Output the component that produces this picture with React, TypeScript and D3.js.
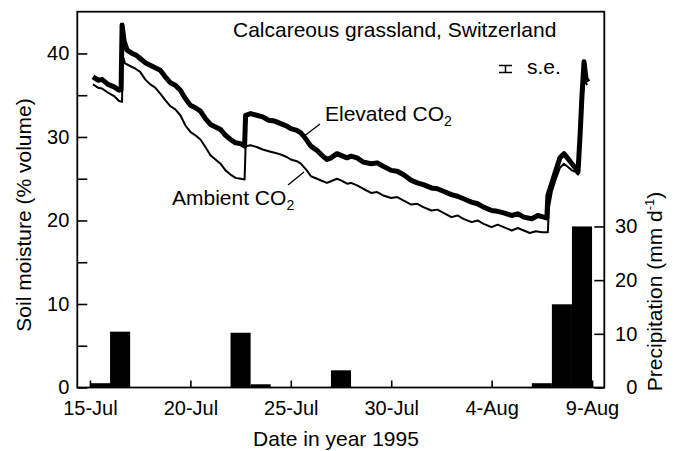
import { useEffect, useRef } from 'react';
import * as d3 from 'd3';

const W = 674;
const H = 451;
const BOX = { left: 77.3, right: 604.3, top: 11.7, bottom: 387.5 };
const FONT = '"Liberation Sans", Arial, Helvetica, sans-serif';

// [day of July 1995 (fractional), soil moisture % volume]
const elevatedCO2: [number, number][] = [
  [15.15, 37.2], [15.4, 36.8], [15.6, 36.9], [15.9, 36.3], [16.2, 36.0], [16.45, 35.6],
  [16.55, 35.7], [16.6, 43.4], [16.7, 41.5], [16.85, 40.4], [17.1, 40.0], [17.3, 39.8],
  [17.5, 39.4], [17.75, 38.9], [18.0, 38.6], [18.25, 38.3], [18.5, 38.0], [18.75, 37.2],
  [19.0, 36.5], [19.25, 36.2], [19.5, 35.6], [19.75, 34.6], [20.0, 33.8], [20.25, 33.5],
  [20.5, 33.1], [20.75, 32.2], [21.0, 31.5], [21.25, 31.2], [21.5, 30.9], [21.75, 30.2],
  [22.0, 29.7], [22.25, 29.3], [22.5, 29.2], [22.7, 28.9], [22.75, 32.6], [23.0, 32.8],
  [23.3, 32.6], [23.6, 32.4], [23.9, 32.0], [24.2, 31.9], [24.5, 31.6], [24.8, 31.3],
  [25.0, 31.0], [25.3, 30.8], [25.5, 30.5], [25.8, 29.6], [26.0, 28.9], [26.3, 28.4],
  [26.6, 27.7], [26.8, 27.3], [27.0, 27.5], [27.3, 28.0], [27.5, 27.8], [27.8, 27.5],
  [28.0, 27.7], [28.3, 27.5], [28.6, 27.0], [29.0, 26.8], [29.3, 26.9], [29.6, 26.5],
  [30.0, 26.0], [30.3, 25.9], [30.6, 25.5], [31.0, 24.8], [31.3, 24.5], [31.6, 24.3],
  [32.0, 23.9], [32.3, 23.8], [32.6, 23.5], [33.0, 23.1], [33.3, 22.9], [33.6, 22.6],
  [34.0, 22.2], [34.3, 22.0], [34.6, 21.6], [35.0, 21.2], [35.3, 21.1], [35.6, 20.9],
  [36.0, 20.6], [36.3, 20.8], [36.6, 20.4], [37.0, 20.2], [37.3, 20.6], [37.6, 20.4],
  [37.75, 20.3], [37.8, 23.0], [38.0, 24.5], [38.2, 26.0], [38.4, 27.5], [38.6, 28.0],
  [38.8, 27.4], [39.0, 26.8], [39.2, 26.2], [39.3, 25.8], [39.4, 30.0], [39.5, 35.0],
  [39.6, 39.0], [39.7, 37.0], [39.8, 36.6],
];

const ambientCO2: [number, number][] = [
  [15.15, 36.3], [15.4, 35.9], [15.6, 35.8], [15.9, 35.3], [16.2, 34.9], [16.45, 34.3],
  [16.6, 34.2], [16.62, 39.8], [16.75, 38.8], [17.0, 38.5], [17.25, 38.2], [17.5, 37.8],
  [17.75, 36.9], [18.0, 36.3], [18.25, 35.9], [18.5, 35.2], [18.75, 34.4], [19.0, 33.7],
  [19.25, 33.3], [19.5, 32.6], [19.75, 31.4], [20.0, 30.6], [20.25, 30.2], [20.5, 29.7],
  [20.75, 28.8], [21.0, 27.8], [21.25, 27.3], [21.5, 26.8], [21.75, 26.0], [22.0, 25.5],
  [22.25, 25.1], [22.5, 25.0], [22.7, 24.9], [22.75, 28.9], [23.0, 29.0], [23.3, 28.8],
  [23.6, 28.5], [23.9, 28.3], [24.2, 28.1], [24.5, 27.9], [24.8, 27.6], [25.0, 27.3],
  [25.3, 27.1], [25.5, 26.8], [25.8, 26.0], [26.0, 25.3], [26.3, 25.0], [26.6, 24.7],
  [26.8, 24.5], [27.0, 24.7], [27.3, 25.0], [27.5, 24.8], [27.8, 24.4], [28.0, 24.5],
  [28.3, 24.2], [28.6, 23.8], [29.0, 23.3], [29.3, 23.4], [29.6, 23.0], [30.0, 22.7],
  [30.3, 22.8], [30.6, 22.4], [31.0, 21.9], [31.3, 22.0], [31.6, 21.6], [32.0, 21.2],
  [32.3, 21.3], [32.6, 20.9], [33.0, 20.4], [33.3, 20.6], [33.6, 20.2], [34.0, 19.8],
  [34.3, 20.0], [34.6, 19.6], [35.0, 19.2], [35.3, 19.5], [35.6, 19.2], [36.0, 18.8],
  [36.3, 19.1], [36.6, 18.8], [36.9, 18.5], [37.2, 18.7], [37.5, 18.6], [37.8, 18.6],
  [37.85, 21.5], [38.0, 23.5], [38.2, 25.0], [38.4, 26.3], [38.6, 26.8], [38.8, 26.4],
  [39.0, 26.0], [39.2, 25.8], [39.3, 25.5], [39.4, 28.5], [39.5, 33.0], [39.6, 37.0],
  [39.75, 36.2],
];

// daily precipitation (mm d-1)
const rainDays = ['1995-07-15', '1995-07-16', '1995-07-22', '1995-07-23', '1995-07-27', '1995-08-06', '1995-08-07', '1995-08-08'];
const rainMm = [0.8, 10.4, 10.2, 0.6, 3.2, 0.8, 15.5, 30.0];

const dateTicks = ['1995-07-15', '1995-07-20', '1995-07-25', '1995-07-30', '1995-08-04', '1995-08-09'];
const moistureTicks = [0, 10, 20, 30, 40];
const moistureMinorTicks = [5, 15, 25, 35];
const rainTicks = [0, 10, 20, 30];

const parseDay = d3.timeParse('%Y-%m-%d');
const july0 = new Date(1995, 6, 1).getTime();
const julyDay = (d: number) => new Date(july0 + (d - 1) * 864e5);

export default function App() {
  const xAxisRef = useRef<SVGGElement>(null);
  const yAxisRef = useRef<SVGGElement>(null);
  const yMinorRef = useRef<SVGGElement>(null);
  const rAxisRef = useRef<SVGGElement>(null);

  const x = d3.scaleTime().domain([julyDay(14.37), julyDay(40.61)]).range([BOX.left, BOX.right]);
  const y = d3.scaleLinear().domain([0, 45]).range([BOX.bottom, BOX.top]);
  const yRain = d3.scaleLinear().domain([0, 70]).range([BOX.bottom, BOX.top]);

  const line = d3
    .line<[number, number]>()
    .x((d) => x(julyDay(d[0])))
    .y((d) => y(d[1]));

  useEffect(() => {
    document.body.style.margin = '0';
    const style = (g: d3.Selection<SVGGElement, unknown, null, undefined>) => {
      g.attr('font-family', FONT).attr('font-size', 20);
      g.select('.domain').remove();
      g.selectAll('.tick line').attr('stroke', '#000').attr('stroke-width', 1.6);
      g.selectAll('.tick text').attr('fill', '#000');
    };
    d3.select(xAxisRef.current!)
      .call(
        d3
          .axisBottom(x)
          .tickValues(dateTicks.map((s) => parseDay(s)!))
          .tickFormat(d3.timeFormat('%-d-%b') as any)
          .tickSizeInner(-7)
          .tickSizeOuter(0)
          .tickPadding(13)
      )
      .call(style);
    d3.select(yAxisRef.current!)
      .call(d3.axisLeft(y).tickValues(moistureTicks).tickSizeInner(-10).tickSizeOuter(0).tickPadding(8))
      .call(style);
    d3.select(yMinorRef.current!)
      .call(d3.axisLeft(y).tickValues(moistureMinorTicks).tickFormat(() => '').tickSizeInner(-10).tickSizeOuter(0))
      .call(style);
    const r = d3.select(rAxisRef.current!);
    r.call(d3.axisRight(yRain).tickValues(rainTicks).tickSizeInner(-10).tickSizeOuter(0).tickPadding(8)).call(style);
    r.selectAll('.tick text').attr('text-anchor', 'end').attr('x', 33);
  }, []);

  return (
    <svg width={W} height={H} style={{ display: 'block', background: '#fff' }} fontFamily={FONT}>
      {/* precipitation bars */}
      {rainDays.map((s, i) => {
        const d0 = parseDay(s)!;
        const x0 = x(d0);
        const x1 = x(d3.timeDay.offset(d0, 1));
        return <rect key={s} x={x0} width={x1 - x0} y={yRain(rainMm[i])} height={BOX.bottom - yRain(rainMm[i])} fill="#000" />;
      })}

      {/* soil moisture */}
      <path d={line(ambientCO2)!} fill="none" stroke="#000" strokeWidth={2} strokeLinejoin="round" />
      <path d={line(elevatedCO2)!} fill="none" stroke="#000" strokeWidth={5} strokeLinejoin="round" />

      {/* frame */}
      <rect x={BOX.left} y={BOX.top} width={BOX.right - BOX.left} height={BOX.bottom - BOX.top} fill="none" stroke="#000" strokeWidth={1.8} />

      <g ref={xAxisRef} transform={`translate(0,${BOX.bottom})`} />
      <g ref={yAxisRef} transform={`translate(${BOX.left},0)`} />
      <g ref={yMinorRef} transform={`translate(${BOX.left},0)`} />
      <g ref={rAxisRef} transform={`translate(${BOX.right},0)`} />

      {/* labels */}
      <text x={233} y={37} fontSize={21}>Calcareous grassland, Switzerland</text>
      <g stroke="#000" strokeWidth={1.5}>
        <line x1={499} x2={512} y1={65.5} y2={65.5} />
        <line x1={499} x2={512} y1={72.5} y2={72.5} />
        <line x1={505.5} x2={505.5} y1={65.5} y2={72.5} />
      </g>
      <text x={527} y={74} fontSize={21}>s.e.</text>

      <text x={325} y={121} fontSize={21}>
        Elevated CO<tspan fontSize={14} dy={5}>2</tspan>
      </text>
      <line x1={320} y1={124} x2={303} y2={137} stroke="#000" strokeWidth={1.3} />
      <text x={172} y={205} fontSize={21}>
        Ambient CO<tspan fontSize={14} dy={5}>2</tspan>
      </text>
      <line x1={288} y1={185} x2={304} y2={172} stroke="#000" strokeWidth={1.3} />

      <text x={336} y={446} fontSize={21} textAnchor="middle">Date in year 1995</text>
      <text transform="translate(31,215) rotate(-90)" fontSize={21} textAnchor="middle">Soil moisture (% volume)</text>
      <text transform="translate(662,291.5) rotate(-90)" fontSize={21} textAnchor="middle">
        Precipitation (mm d<tspan fontSize={13} dy={-8}>-1</tspan><tspan dy={8}>)</tspan>
      </text>
    </svg>
  );
}
